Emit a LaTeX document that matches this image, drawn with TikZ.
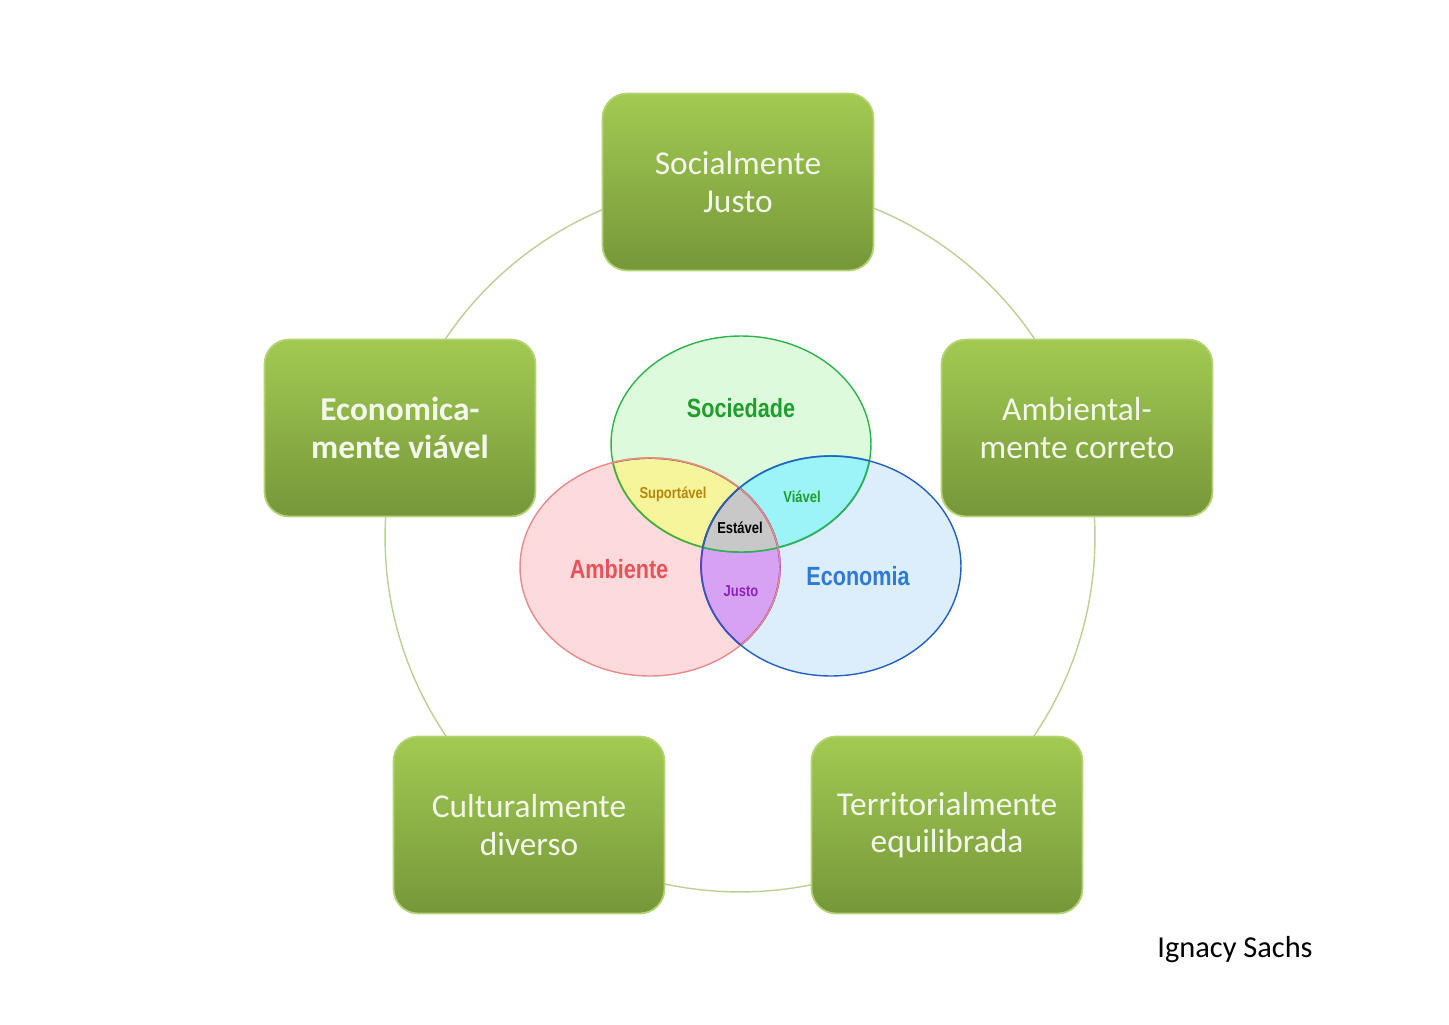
\documentclass[tikz,border=0pt]{standalone}
\usepackage{fontspec}
\setmainfont{Carlito}
\newfontfamily\vennfont[FakeStretch=0.82]{Liberation Sans}
\usetikzlibrary{positioning}

\definecolor{boxtop}{HTML}{A2CA52}
\definecolor{boxmid}{HTML}{8DB243}
\definecolor{boxbot}{HTML}{76973A}
\definecolor{boxrim}{HTML}{B4D474}
\definecolor{boxtext}{HTML}{F4F7EC}
\definecolor{ringcol}{HTML}{BCCF94}
\definecolor{socfill}{HTML}{DDFADD}
\definecolor{socline}{HTML}{2DB34A}
\definecolor{socword}{HTML}{1F9E2C}
\definecolor{ambfill}{HTML}{FDDADB}
\definecolor{ambline}{HTML}{E98A8C}
\definecolor{ambword}{HTML}{E8525A}
\definecolor{ecofill}{HTML}{DCEDFB}
\definecolor{ecoline}{HTML}{2460C0}
\definecolor{ecoword}{HTML}{2E7AD6}
\definecolor{supfill}{HTML}{F6F59C}
\definecolor{supline}{HTML}{D2A31E}
\definecolor{supword}{HTML}{B8860B}
\definecolor{viafill}{HTML}{9CF3F8}
\definecolor{vialine}{HTML}{22AFC2}
\definecolor{jusfill}{HTML}{D8A2F2}
\definecolor{jusline}{HTML}{8A22BE}
\definecolor{estfill}{HTML}{C8C8C8}
\definecolor{estline}{HTML}{555555}

\begin{document}
\begin{tikzpicture}
  [
    x=0.02cm, y=-0.02cm,
    box/.style={rounded corners=14pt, minimum width=5.42cm,
      minimum height=3.54cm, align=center, text=boxtext,
      top color=boxtop, middle color=boxmid, bottom color=boxbot,
      draw=boxrim, line width=1pt,
      font=\fontsize{19}{21.5}\selectfont},
    ring/.style={draw=ringcol, line width=0.8pt},
    big/.style={font=\vennfont\bfseries\fontsize{15}{18}\selectfont},
    small/.style={font=\vennfont\bfseries\fontsize{9}{11}\selectfont}
  ]

  \useasboundingbox (0,0) rectangle (1449,1024);

  \coordinate (c0) at (740,537);
  \draw [ring] (c0) circle (7.1cm);

  \node (b1) at ( 738,182) [box] {Socialmente\\Justo};
  \node (b2) at (1077,428) [box] {Ambiental-\\mente correto};
  \node (b3) at ( 947,825) [box] {Territorialmente\\equilibrada};
  \node (b4) at ( 529,825) [box] {Culturalmente\\diverso};
  \node (b5) at ( 400,428) [box, font=\bfseries\fontsize{19}{21.5}\selectfont]
    {Economica-\\mente vi\'avel};

  \coordinate (es) at (741,444);
  \coordinate (ea) at (650,567);
  \coordinate (ee) at (831,566);

  \fill [ambfill] (ea) ellipse [x radius=2.6cm, y radius=2.18cm];
  \fill [ecofill] (ee) ellipse [x radius=2.6cm, y radius=2.2cm];
  \fill [socfill] (es) ellipse [x radius=2.6cm, y radius=2.16cm];

  \begin{scope}
    \clip (es) ellipse [x radius=2.6cm, y radius=2.16cm];
    \fill [supfill] (ea) ellipse [x radius=2.6cm, y radius=2.18cm];
    \fill [viafill] (ee) ellipse [x radius=2.6cm, y radius=2.2cm];
    \draw [supline, line width=1pt] (ea) ellipse [x radius=2.6cm, y radius=2.18cm];
    \draw [vialine, line width=1pt] (ee) ellipse [x radius=2.6cm, y radius=2.2cm];
  \end{scope}
  \begin{scope}
    \clip (ea) ellipse [x radius=2.6cm, y radius=2.18cm];
    \fill [jusfill] (ee) ellipse [x radius=2.6cm, y radius=2.2cm];
    \draw [jusline, line width=1pt] (ee) ellipse [x radius=2.6cm, y radius=2.2cm];
    \draw [supline, line width=1pt] (es) ellipse [x radius=2.6cm, y radius=2.16cm];
  \end{scope}
  \begin{scope}
    \clip (ee) ellipse [x radius=2.6cm, y radius=2.2cm];
    \draw [jusline, line width=1pt] (ea) ellipse [x radius=2.6cm, y radius=2.18cm];
    \draw [vialine, line width=1pt] (es) ellipse [x radius=2.6cm, y radius=2.16cm];
  \end{scope}
  \begin{scope}
    \clip (es) ellipse [x radius=2.6cm, y radius=2.16cm];
    \clip (ea) ellipse [x radius=2.6cm, y radius=2.18cm];
    \fill [estfill] (ee) ellipse [x radius=2.6cm, y radius=2.2cm];
    \draw [estline, line width=1pt] (ee) ellipse [x radius=2.6cm, y radius=2.2cm];
    \draw [estline, line width=1pt] (ea) ellipse [x radius=2.6cm, y radius=2.18cm];
  \end{scope}

  \draw [socline, line width=0.8pt] (es) ellipse [x radius=2.6cm, y radius=2.16cm];
  \draw [ambline, line width=0.8pt] (ea) ellipse [x radius=2.6cm, y radius=2.18cm];
  \draw [ecoline, line width=0.8pt] (ee) ellipse [x radius=2.6cm, y radius=2.2cm];

  \node (v1) at (741,408) [big, text=socword] {Sociedade};
  \node (v2) at (619,569) [big, text=ambword] {Ambiente};
  \node (v3) at (858,576) [big, text=ecoword] {Economia};
  \node (v4) at (673,494) [small, text=supword] {Suport\'avel};
  \node (v5) at (802,497) [small, text=socword] {Vi\'avel};
  \node (v6) at (740,528) [small, text=black] {Est\'avel};
  \node (v7) at (741,591) [small, text=jusline] {Justo};

  \node (a0) at (1235,950) [font=\fontsize{17.3}{20}\selectfont] {Ignacy Sachs};
\end{tikzpicture}
\end{document}
